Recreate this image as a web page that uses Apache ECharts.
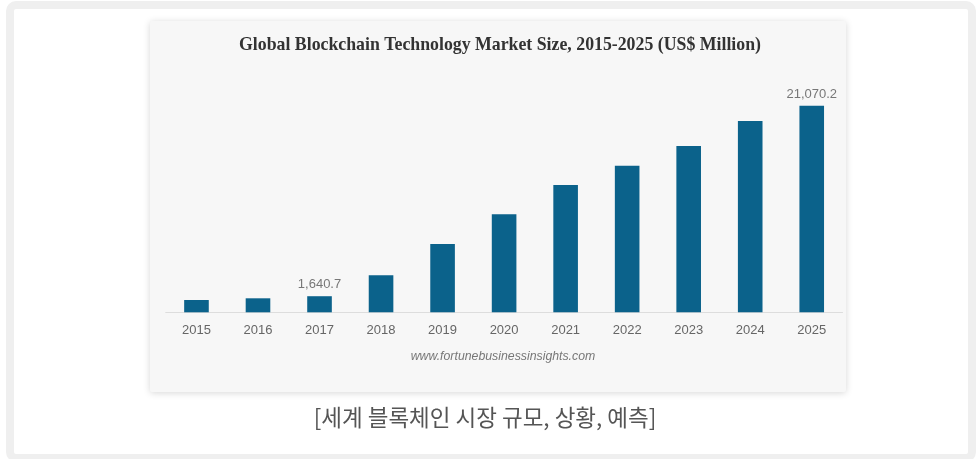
<!DOCTYPE html>
<html>
<head>
<meta charset="utf-8">
<script src="https://cdn.jsdelivr.net/npm/echarts@6/dist/echarts.min.js"></script>
<style>
html,body{margin:0;padding:0;background:#fff;}
#chart{width:977px;height:459px;}
</style>
</head>
<body>
<div id="chart"></div>
<script>
var years = ['2015','2016','2017','2018','2019','2020','2021','2022','2023','2024','2025'];
var marketSize = [1254, 1428, 1640.7, 3774, 6966, 9995, 12984, 14952, 16961, 19511, 21070.2];
var labelledYears = ['2017','2025'];
var chartTitle = 'Global Blockchain Technology Market Size, 2015-2025 (US$ Million)';
var sourceText = 'www.fortunebusinessinsights.com';
var caption = '[세계 블록체인 시장 규모, 상황, 예측]';

var chart = echarts.init(document.getElementById('chart'), null, {renderer: 'canvas'});

function fmt(v) {
  return v.toLocaleString('en-US', {minimumFractionDigits: 1, maximumFractionDigits: 1});
}

var option = {
  backgroundColor: '#ffffff',
  animation: false,
  graphic: [
    {type: 'rect', z: -10, shape: {x: 10, y: 5, width: 962, height: 453, r: 6},
     style: {fill: '#ffffff', stroke: '#efefef', lineWidth: 8}},
    {type: 'rect', z: -5, shape: {x: 150, y: 21, width: 696, height: 371, r: 2},
     style: {fill: '#f7f7f7', shadowBlur: 7, shadowColor: 'rgba(0,0,0,0.16)', shadowOffsetX: 0, shadowOffsetY: 1}},
    {type: 'text', z: 5, x: 500, y: 45,
     style: {text: chartTitle, fontFamily: 'Liberation Serif', fontWeight: 'bold', fontSize: 17.8,
             fill: '#333333', align: 'center', verticalAlign: 'middle'}},
    {type: 'text', z: 5, x: 503, y: 357,
     style: {text: sourceText, fontFamily: 'Liberation Sans', fontStyle: 'italic', fontSize: 12.3,
             fill: '#777777', align: 'center', verticalAlign: 'middle'}},
    {type: 'text', z: 5, x: 485, y: 417,
     style: {text: caption, fontFamily: 'Noto Sans CJK KR', fontSize: 22.5,
             fill: '#555555', align: 'center', verticalAlign: 'middle'}}
  ],
  grid: {left: 165.7, right: 134.5, top: 96.6, bottom: 146.7, containLabel: false},
  xAxis: {
    type: 'category',
    data: years,
    axisLine: {show: true, lineStyle: {color: '#dddddd', width: 1}},
    axisTick: {show: false},
    axisLabel: {color: '#666666', fontFamily: 'Liberation Sans', fontSize: 13, margin: 12}
  },
  yAxis: {
    type: 'value', min: 0, max: 22000,
    show: false,
    splitLine: {show: false}
  },
  series: [{
    type: 'bar',
    data: marketSize,
    barWidth: '40%',
    itemStyle: {color: '#0b628b'},
    label: {
      show: true, position: 'top', distance: 5,
      color: '#777777', fontFamily: 'Liberation Sans', fontSize: 13,
      formatter: function (p) {
        return labelledYears.indexOf(p.name) >= 0 ? fmt(p.value) : '';
      }
    }
  }]
};
chart.setOption(option);
</script>
</body>
</html>
